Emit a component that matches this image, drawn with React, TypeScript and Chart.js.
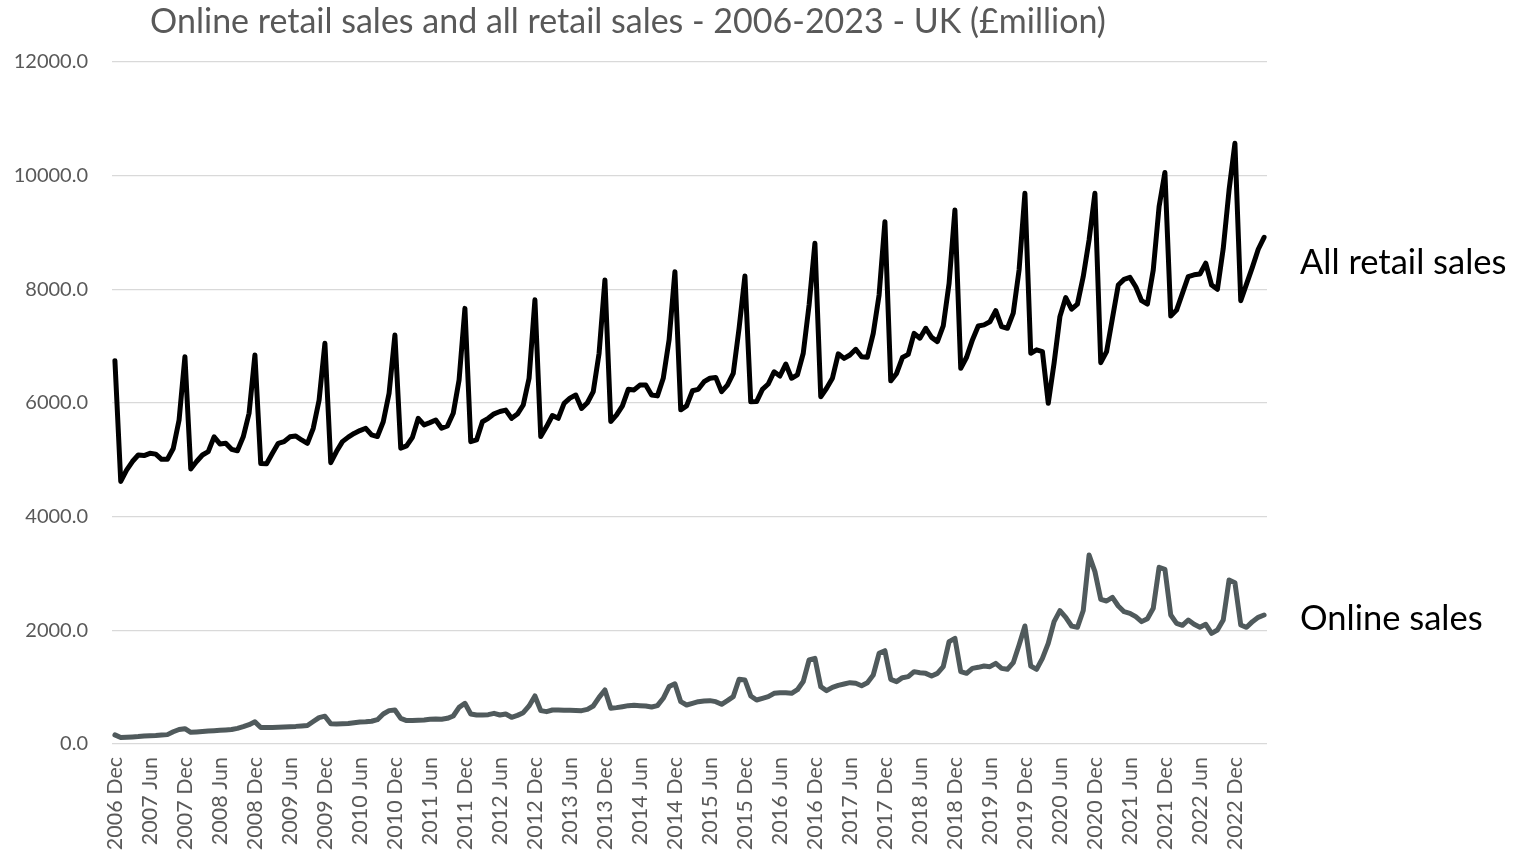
import React, { useEffect, useRef } from "react";
import { Chart, registerables } from "chart.js";

Chart.register(...registerables);

const TITLE = "Online retail sales and all retail sales - 2006-2023 - UK (£million)";
const SERIES_NAMES = ["All retail sales", "Online sales"];
const MONTH_NAMES = ["Jan", "Feb", "Mar", "Apr", "May", "Jun", "Jul", "Aug", "Sep", "Oct", "Nov", "Dec"];
const FIRST_YEAR = 2006;
const FIRST_MONTH_INDEX = 11; // Dec
const Y_TICKS = [0, 2000, 4000, 6000, 8000, 10000, 12000];
const TICK_MONTHS = ["Dec", "Jun"];

// All retail sales, £million, Dec 2006 .. May 2023
const ALL_RETAIL = [
  6745,
  4620, 4820, 4970, 5085, 5075, 5115, 5100, 5010, 5010, 5200, 5700, 6815,
  4840, 4970, 5085, 5145, 5405, 5280, 5290, 5185, 5160, 5405, 5820, 6845,
  4935, 4930, 5115, 5290, 5320, 5405, 5420, 5350, 5290, 5555, 6050, 7050,
  4950, 5150, 5320, 5400, 5465, 5515, 5555, 5440, 5410, 5670, 6170, 7195,
  5205, 5245, 5395, 5730, 5615, 5655, 5700, 5555, 5595, 5820, 6405, 7665,
  5320, 5350, 5670, 5730, 5810, 5850, 5875, 5730, 5805, 5965, 6435, 7815,
  5410, 5585, 5780, 5730, 5995, 6085, 6140, 5905, 6005, 6200, 6875, 8165,
  5675, 5790, 5950, 6240, 6230, 6315, 6315, 6140, 6125, 6435, 7110, 8310,
  5880, 5950, 6215, 6240, 6375, 6435, 6450, 6200, 6315, 6520, 7315, 8235,
  6020, 6025, 6240, 6335, 6550, 6475, 6685, 6435, 6495, 6875, 7725, 8810,
  6110, 6260, 6435, 6865, 6785, 6845, 6945, 6815, 6805, 7225, 7900, 9190,
  6390, 6520, 6800, 6855, 7225, 7140, 7315, 7155, 7080, 7355, 8105, 9395,
  6610, 6805, 7110, 7355, 7375, 7430, 7625, 7345, 7315, 7580, 8340, 9690,
  6875, 6935, 6905, 5995, 6700, 7520, 7855, 7650, 7740, 8225, 8870, 9690,
  6710, 6905, 7490, 8075, 8175, 8210, 8045, 7800, 7740, 8340, 9455, 10055,
  7530, 7635, 7930, 8225, 8255, 8270, 8460, 8075, 8000, 8720, 9750, 10570,
  7800, 8095, 8390, 8705, 8915,
];

// Online sales, £million, Dec 2006 .. May 2023
const ONLINE = [
  160,
  115, 120, 125, 130, 140, 145, 150, 158, 165, 215, 255, 270,
  205, 212, 220, 228, 233, 240, 248, 255, 275, 305, 340, 390,
  290, 290, 292, 295, 300, 305, 310, 318, 325, 395, 465, 490,
  355, 352, 355, 360, 375, 387, 390, 400, 428, 528, 587, 598,
  450, 412, 412, 416, 422, 434, 440, 434, 452, 493, 645, 716,
  528, 510, 510, 516, 540, 510, 528, 470, 504, 551, 669, 845,
  587, 569, 598, 598, 592, 592, 590, 587, 610, 669, 821, 950,
  628, 640, 657, 675, 681, 675, 669, 651, 675, 804, 1010, 1060,
  745, 686, 716, 745, 757, 763, 745, 698, 763, 833, 1138, 1126,
  845, 774, 804, 833, 892, 903, 903, 892, 955, 1100, 1478, 1507,
  1009, 938, 997, 1032, 1056, 1079, 1068, 1026, 1079, 1214, 1596, 1642,
  1138, 1097, 1167, 1185, 1273, 1255, 1243, 1197, 1243, 1361, 1801, 1859,
  1273, 1243, 1331, 1349, 1372, 1361, 1419, 1331, 1314, 1431, 1742, 2076,
  1372, 1314, 1507, 1771, 2153, 2346, 2229, 2076, 2053, 2350, 3326, 3033,
  2546, 2516, 2581, 2428, 2328, 2299, 2240, 2153, 2205, 2387, 3109, 3074,
  2270, 2123, 2088, 2182, 2106, 2053, 2106, 1947, 2006, 2182, 2886, 2839,
  2094, 2053, 2153, 2229, 2270,
];

const CATEGORIES: string[] = ALL_RETAIL.map((_, i) => {
  const idx = FIRST_MONTH_INDEX + i;
  return `${FIRST_YEAR + Math.floor(idx / 12)} ${MONTH_NAMES[idx % 12]}`;
});

const FONT = "Lato, 'Open Sans', sans-serif";
const GREY_TEXT = "#595959";

const textPlugin = {
  id: "fixedTexts",
  afterDraw(chart: any) {
    const ctx = chart.ctx;
    const area = chart.chartArea;
    ctx.save();
    ctx.textBaseline = "middle";
    ctx.font = `34px ${FONT}`;
    ctx.fillStyle = GREY_TEXT;
    ctx.textAlign = "center";
    ctx.fillText(TITLE, 628, 22);
    ctx.font = `34.5px ${FONT}`;
    ctx.fillStyle = "#000000";
    ctx.textAlign = "left";
    ctx.fillText(SERIES_NAMES[0], area.right + 33, 263);
    ctx.fillText(SERIES_NAMES[1], area.right + 33, 619);
    ctx.restore();
  },
};

export default function App() {
  const canvasRef = useRef<HTMLCanvasElement | null>(null);

  useEffect(() => {
    if (!canvasRef.current) return;
    const chart = new Chart(canvasRef.current, {
      type: "line",
      data: {
        labels: CATEGORIES,
        datasets: [
          {
            label: SERIES_NAMES[0],
            data: ALL_RETAIL,
            borderColor: "#000000",
            backgroundColor: "#000000",
            borderWidth: 5,
            pointRadius: 0,
            tension: 0,
            borderJoinStyle: "round",
            borderCapStyle: "round",
          },
          {
            label: SERIES_NAMES[1],
            data: ONLINE,
            borderColor: "#505a5c",
            backgroundColor: "#505a5c",
            borderWidth: 5,
            pointRadius: 0,
            tension: 0,
            borderJoinStyle: "round",
            borderCapStyle: "round",
          },
        ],
      },
      options: {
        animation: false,
        responsive: true,
        maintainAspectRatio: false,
        layout: { padding: { left: 0, right: 251, top: 62, bottom: 0 } },
        plugins: {
          legend: { display: false },
          tooltip: { enabled: false },
          title: { display: false },
        },
        scales: {
          x: {
            type: "category",
            offset: true,
            grid: { display: false, drawTicks: false },
            border: { display: false },
            ticks: {
              autoSkip: false,
              maxRotation: 90,
              minRotation: 90,
              padding: 13,
              color: GREY_TEXT,
              font: { family: FONT, size: 21.5 },
              callback: function (this: any, value: any) {
                const l = this.getLabelForValue(value) as string;
                return TICK_MONTHS.some((m) => l.endsWith(m)) ? l : "";
              },
            },
            afterFit: (s: any) => {
              s.height = 108;
            },
          },
          y: {
            min: Y_TICKS[0],
            max: Y_TICKS[Y_TICKS.length - 1],
            afterBuildTicks: (s: any) => {
              s.ticks = Y_TICKS.map((v) => ({ value: v }));
            },
            grid: { color: "#d9d9d9", lineWidth: 1.3, drawTicks: false },
            border: { display: false },
            ticks: {
              padding: 24,
              color: GREY_TEXT,
              font: { family: FONT, size: 20 },
              callback: (v: any) => Number(v).toFixed(1),
            },
            afterFit: (s: any) => {
              s.width = 112;
            },
          },
        },
      },
      plugins: [textPlugin],
    });
    return () => chart.destroy();
  }, []);

  return (
    <div style={{ position: "fixed", left: 0, top: 0, width: 1518, height: 852, background: "#ffffff" }}>
      <canvas ref={canvasRef} />
    </div>
  );
}
